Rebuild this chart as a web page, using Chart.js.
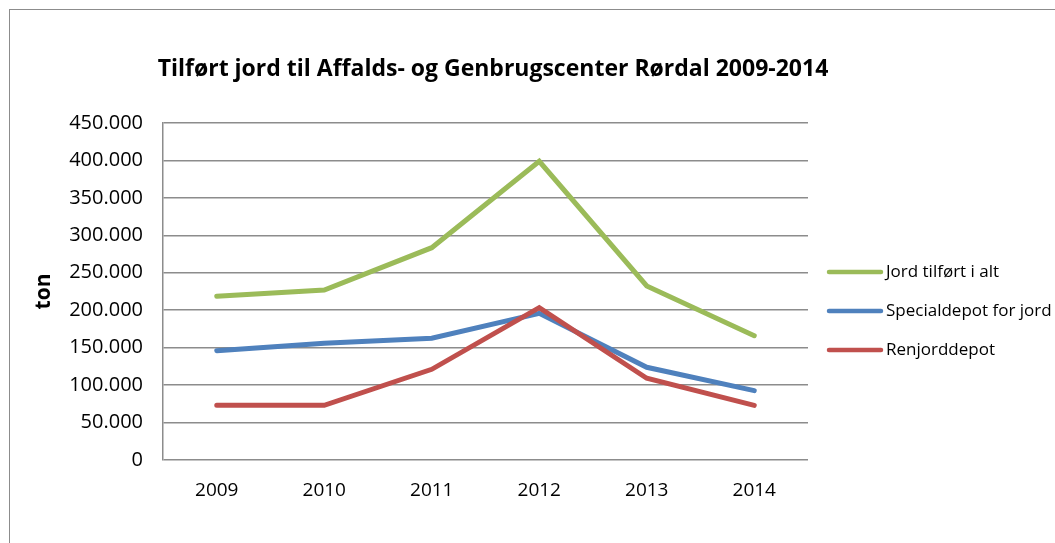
<!DOCTYPE html>
<html>
<head>
<meta charset="utf-8">
<script src="https://cdn.jsdelivr.net/npm/chart.js@4.4.1/dist/chart.umd.min.js"></script>
<style>
  html, body { margin: 0; padding: 0; background: #fff; overflow: hidden; }
  #wrap { position: relative; width: 1055px; height: 543px; }
  #frame { position: absolute; left: 9px; top: 9px; width: 1100px; height: 600px; border: 1.5px solid #8c8c8c; }
  canvas { position: absolute; left: 0; top: 0; }
</style>
</head>
<body>
<div id="wrap">
  <div id="frame"></div>
  <canvas id="chart" width="1055" height="543"></canvas>
</div>
<script>
const years = ["2009", "2010", "2011", "2012", "2013", "2014"];
const jordIAlt = [218600, 227000, 283500, 398900, 232400, 166000];
const specialdepot = [146000, 155800, 162500, 195900, 123800, 92600];
const renjorddepot = [73000, 73000, 121100, 203500, 109100, 73000];
const yTickLabels = ["0", "50.000", "100.000", "150.000", "200.000", "250.000", "300.000", "350.000", "400.000", "450.000"];

const chartTitle = "Tilført jord til Affalds- og Genbrugscenter Rørdal 2009-2014";
const FONT = "'Open Sans', sans-serif";

const seriesNames = ["Jord tilført i alt", "Specialdepot for jord", "Renjorddepot"];
const seriesColors = ["#9BBB59", "#4F81BD", "#C0504D"];

// title + legend are drawn by hand so they sit where the original puts them
const decorations = {
  id: "decorations",
  afterDraw(chart) {
    const ctx = chart.ctx;
    ctx.save();
    ctx.fillStyle = "#000";
    ctx.font = "bold 23px " + FONT;
    ctx.textAlign = "center";
    ctx.textBaseline = "middle";
    ctx.fillText(chartTitle, 493, 69);

    ctx.font = "17px " + FONT;
    ctx.textAlign = "left";
    chart.data.datasets.forEach((ds, i) => {
      const y = 272 + i * 39;
      ctx.strokeStyle = ds.borderColor;
      ctx.lineWidth = 4.5;
      ctx.lineCap = "round";
      ctx.beginPath();
      ctx.moveTo(829, y);
      ctx.lineTo(881, y);
      ctx.stroke();
      ctx.fillText(ds.label, 886, y);
    });
    ctx.restore();
  }
};

new Chart(document.getElementById("chart"), {
  type: "line",
  data: {
    labels: years,
    datasets: [
      { label: seriesNames[0], data: jordIAlt },
      { label: seriesNames[1], data: specialdepot },
      { label: seriesNames[2], data: renjorddepot }
    ].map((d, i) => ({
      ...d,
      borderColor: seriesColors[i],
      backgroundColor: seriesColors[i],
      borderWidth: 5,
      pointRadius: 0,
      tension: 0,
      borderCapStyle: "round",
      borderJoinStyle: "miter",
      order: i === 0 ? 2 : i === 1 ? 1 : 0
    }))
  },
  options: {
    responsive: false,
    animation: false,
    layout: { padding: { top: 123, right: 247, bottom: 0, left: 0 } },
    plugins: {
      legend: { display: false },
      title: { display: false },
      tooltip: { enabled: false }
    },
    scales: {
      x: {
        offset: true,
        grid: { display: false, drawTicks: false },
        border: { display: false },
        ticks: { color: "#000", padding: 19, font: { family: FONT, size: 19 } },
        afterFit: (s) => { s.height = 83; }
      },
      y: {
        min: 0,
        max: 450000,
        ticks: {
          stepSize: 50000,
          padding: 20,
          color: "#000",
          font: { family: FONT, size: 20 },
          callback: (v, i) => yTickLabels[i]
        },
        grid: { color: "#8c8c8c", lineWidth: 1.5, drawTicks: false },
        border: { display: true, color: "#8c8c8c", width: 1.5 },
        title: {
          display: true,
          text: "ton",
          color: "#000",
          font: { family: FONT, size: 21, weight: "bold" },
          padding: { top: 31, bottom: 0 }
        },
        afterFit: (s) => { s.width = 163; }
      }
    }
  },
  plugins: [decorations]
});
</script>
</body>
</html>
